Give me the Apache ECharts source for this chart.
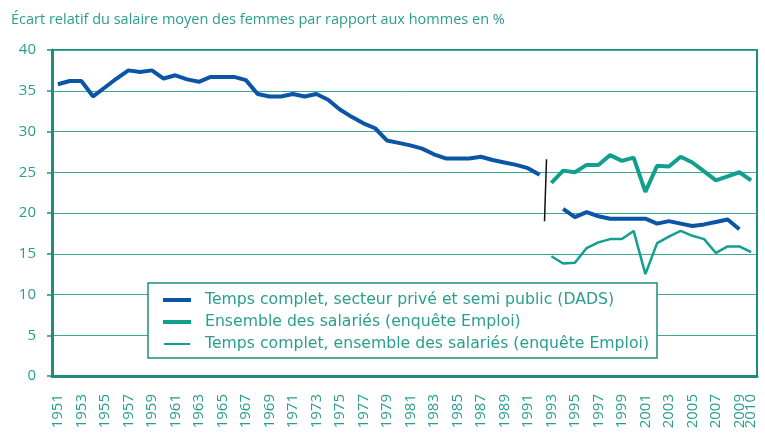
<!DOCTYPE html>
<html lang="fr">
<head>
<meta charset="UTF-8">
<title>Ecart salaire femmes hommes</title>
<script src="https://cdn.jsdelivr.net/npm/echarts@6/dist/echarts.min.js"></script>
<style>
    html, body { margin: 0; padding: 0; background: #fff; }
    #main { width: 765px; height: 436px; }
</style>
</head>
<body>
<div id="main"></div>
<script>
// categories (years)
var years = ['1951','1952','1953','1954','1955','1956','1957','1958','1959','1960',
             '1961','1962','1963','1964','1965','1966','1967','1968','1969','1970',
             '1971','1972','1973','1974','1975','1976','1977','1978','1979','1980',
             '1981','1982','1983','1984','1985','1986','1987','1988','1989','1990',
             '1991','1992','1993','1994','1995','1996','1997','1998','1999','2000',
             '2001','2002','2003','2004','2005','2006','2007','2008','2009','2010'];

// DADS, 1951-2009 (break in 1993)
var dads = [35.8, 36.2, 36.2, 34.3, 35.4, 36.5, 37.5, 37.3, 37.5, 36.5,
            36.9, 36.4, 36.1, 36.7, 36.7, 36.7, 36.3, 34.6, 34.3, 34.3,
            34.6, 34.3, 34.6, 33.9, 32.7, 31.8, 31.0, 30.4, 28.9, 28.6,
            28.3, 27.9, 27.2, 26.7, 26.7, 26.7, 26.9, 26.5, 26.2, 25.9,
            25.5, 24.7, null, 20.5, 19.5, 20.1, 19.6, 19.3, 19.3, 19.3,
            19.3, 18.7, 19.0, 18.7, 18.4, 18.6, 18.9, 19.2, 18.0];

// enquete Emploi, 1993-2010
var emploiYears = ['1993','1994','1995','1996','1997','1998','1999','2000','2001',
                   '2002','2003','2004','2005','2006','2007','2008','2009','2010'];
var ensemble = [23.7, 25.2, 25.0, 25.9, 25.9, 27.1, 26.4, 26.8, 22.6,
                25.8, 25.7, 26.9, 26.2, 25.1, 24.0, 24.5, 25.0, 24.0];
var tempsComplet = [14.7, 13.8, 13.9, 15.7, 16.4, 16.8, 16.8, 17.8, 12.5,
                    16.3, 17.1, 17.8, 17.2, 16.8, 15.1, 15.9, 15.9, 15.2];

var names = ['Temps complet, secteur privé et semi public (DADS)',
             'Ensemble des salariés (enquête Emploi)',
             'Temps complet, ensemble des salariés (enquête Emploi)'];

var teal = '#2a9d8f';
var axisTeal = '#1f8d7c';
var blue = '#0a55a5';
var green = '#11a08e';
var font = 'Open Sans';

function pairs(cats, vals) {
    return cats.map(function (c, i) { return [c, vals[i]]; });
}

var yearLabel = {
    rotate: 90,
    margin: 18,
    color: teal,
    fontSize: 15,
    fontFamily: font
};

var chart = echarts.init(document.getElementById('main'), null, {renderer: 'canvas'});

var option = {
    animation: false,
    textStyle: { fontFamily: font },
    title: {
        text: 'Écart relatif du salaire moyen des femmes par rapport aux hommes en %',
        left: 6,
        top: 7,
        textStyle: { color: teal, fontSize: 14.5, fontWeight: 'normal', fontFamily: font }
    },
    grid: {
        left: 52, right: 8, top: 50, bottom: 60,
        show: true,
        borderColor: axisTeal,
        borderWidth: 2
    },
    legend: {
        orient: 'vertical',
        left: 148,
        top: 283,
        padding: [8, 8, 5, 14],
        itemGap: 4,
        itemWidth: 28,
        itemHeight: 4,
        backgroundColor: '#fff',
        borderColor: axisTeal,
        borderWidth: 1.5,
        textStyle: { color: teal, fontSize: 15.7, lineHeight: 18, fontFamily: 'DejaVu Sans', padding: [0, 0, 0, 9] },
        data: [
            { name: names[0], icon: 'rect', itemStyle: { color: blue } },
            { name: names[1], icon: 'rect', itemStyle: { color: green } },
            { name: names[2], icon: 'rect', itemStyle: { color: green, borderColor: '#fff', borderWidth: 2 } }
        ]
    },
    xAxis: [{
        type: 'category',
        data: years,
        boundaryGap: true,
        axisLine: { lineStyle: { color: axisTeal, width: 3 } },
        axisTick: { interval: 0, length: 5, lineStyle: { color: axisTeal, width: 1.5 } },
        axisLabel: Object.assign({
            interval: function (i) { return i % 2 === 0; }
        }, yearLabel),
        splitLine: { show: false }
    }, {
        // second axis on the same scale, only for the last label (2010)
        type: 'category',
        data: years,
        position: 'bottom',
        boundaryGap: true,
        axisLine: { show: false },
        axisTick: { show: false },
        axisLabel: Object.assign({
            interval: function (i) { return i === years.length - 1; }
        }, yearLabel),
        splitLine: { show: false }
    }],
    yAxis: {
        type: 'value',
        min: 0,
        max: 40,
        interval: 5,
        axisLine: { show: true, lineStyle: { color: axisTeal, width: 3 } },
        axisTick: { show: true, length: 5, lineStyle: { color: axisTeal, width: 1.5 } },
        axisLabel: { color: teal, fontSize: 15, margin: 16, fontFamily: font },
        splitLine: { lineStyle: { color: '#3aa99a', width: 1 } }
    },
    series: [
        {
            name: names[0],
            type: 'line',
            data: dads,
            symbol: 'none',
            connectNulls: false,
            lineStyle: { color: blue, width: 4 },
            itemStyle: { color: blue },
            z: 3
        },
        {
            name: names[1],
            type: 'line',
            data: pairs(emploiYears, ensemble),
            symbol: 'none',
            lineStyle: { color: green, width: 4 },
            itemStyle: { color: green },
            z: 2
        },
        {
            name: names[2],
            type: 'line',
            data: pairs(emploiYears, tempsComplet),
            symbol: 'none',
            lineStyle: { color: green, width: 2.5 },
            itemStyle: { color: green },
            z: 2
        }
    ]
};

chart.setOption(option);

// break mark between the two DADS segments
var breakTop = chart.convertToPixel({gridIndex: 0}, ['1992', 26.6]);
var breakBot = chart.convertToPixel({gridIndex: 0}, ['1993', 19.0]);
var breakX = (breakTop[0] + breakBot[0]) / 2;
chart.setOption({
    graphic: [{
        type: 'line',
        shape: { x1: breakX + 1, y1: breakTop[1], x2: breakX - 1, y2: breakBot[1] },
        style: { stroke: '#111', lineWidth: 1.5 },
        z: 10
    }]
});
</script>
</body>
</html>
